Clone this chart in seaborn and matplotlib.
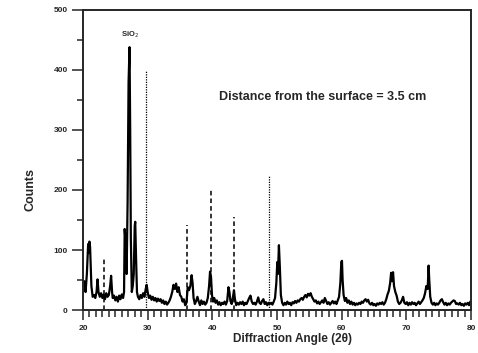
import matplotlib
matplotlib.use("Agg")
import matplotlib.pyplot as plt
import seaborn as sns
import pandas as pd
from matplotlib.ticker import MultipleLocator

# XRD 패턴 (2theta, counts) - 그림에서 읽은 값
angle = [20.0, 20.2, 20.4, 20.6, 20.8, 20.9, 21.0, 21.1, 21.3, 21.5, 21.7, 21.9,
         22.1, 22.25, 22.4, 22.6, 22.8, 23.0, 23.2, 23.4, 23.6, 23.8, 24.0, 24.2,
         24.35, 24.5, 24.6, 24.8, 25.0, 25.2, 25.4, 25.6, 25.8, 26.0, 26.2, 26.35,
         26.45, 26.6, 26.75, 26.9, 27.05, 27.2, 27.3, 27.4, 27.55, 27.7, 27.85, 28.0,
         28.08, 28.2, 28.35, 28.5, 28.7, 28.9, 29.1, 29.3, 29.5, 29.7, 29.85, 30.0,
         30.2, 30.4, 30.6, 30.8, 31.0, 31.2, 31.4, 31.6, 31.8, 32.0, 32.2, 32.4,
         32.6, 32.8, 33.0, 33.2, 33.4, 33.6, 33.8, 34.0, 34.2, 34.4, 34.6, 34.8,
         35.0, 35.2, 35.4, 35.6, 35.8, 36.0, 36.2, 36.4, 36.6, 36.8, 36.95, 37.1,
         37.3, 37.5, 37.7, 37.9, 38.1, 38.3, 38.5, 38.7, 38.9, 39.1, 39.3, 39.5,
         39.65, 39.8, 39.95, 40.1, 40.3, 40.5, 40.7, 40.9, 41.1, 41.3, 41.5, 41.7,
         41.9, 42.1, 42.3, 42.5, 42.65, 42.8, 43.0, 43.2, 43.35, 43.5, 43.7, 43.9,
         44.1, 44.3, 44.5, 44.7, 44.9, 45.1, 45.3, 45.5, 45.7, 45.9, 46.1, 46.3,
         46.5, 46.7, 46.9, 47.1, 47.3, 47.5, 47.7, 47.9, 48.1, 48.3, 48.5, 48.7,
         48.9, 49.1, 49.3, 49.5, 49.7, 49.9, 50.05, 50.15, 50.3, 50.45, 50.6, 50.8,
         51.0, 51.2, 51.4, 51.6, 51.8, 52.0, 52.2, 52.4, 52.6, 52.8, 53.0, 53.2,
         53.4, 53.6, 53.8, 54.0, 54.2, 54.4, 54.6, 54.8, 55.0, 55.2, 55.4, 55.6,
         55.8, 56.0, 56.2, 56.4, 56.6, 56.8, 57.0, 57.2, 57.4, 57.6, 57.8, 58.0,
         58.2, 58.4, 58.6, 58.8, 59.0, 59.2, 59.4, 59.6, 59.8, 59.95, 60.05, 60.15,
         60.3, 60.5, 60.7, 60.9, 61.1, 61.3, 61.5, 61.7, 61.9, 62.1, 62.3, 62.5,
         62.7, 62.9, 63.1, 63.3, 63.5, 63.7, 63.9, 64.1, 64.3, 64.5, 64.7, 64.9,
         65.1, 65.3, 65.5, 65.7, 65.9, 66.1, 66.3, 66.5, 66.7, 66.9, 67.1, 67.3,
         67.5, 67.65, 67.8, 67.95, 68.1, 68.3, 68.5, 68.7, 68.9, 69.1, 69.3, 69.5,
         69.7, 69.9, 70.1, 70.3, 70.5, 70.7, 70.9, 71.1, 71.3, 71.5, 71.7, 71.9,
         72.1, 72.3, 72.5, 72.7, 72.9, 73.1, 73.3, 73.45, 73.55, 73.7, 73.9, 74.1,
         74.3, 74.5, 74.7, 74.9, 75.1, 75.3, 75.5, 75.7, 75.9, 76.1, 76.3, 76.5,
         76.7, 76.9, 77.1, 77.3, 77.5, 77.7, 77.9, 78.1, 78.3, 78.5, 78.7, 78.9,
         79.1, 79.3, 79.5, 79.7, 79.9]
counts = [40, 48, 30, 60, 110, 95, 114, 105, 40, 22, 25, 20,
          30, 51, 30, 22, 28, 20, 26, 18, 28, 22, 25, 40,
          57, 30, 20, 24, 16, 22, 14, 24, 18, 26, 20, 30,
          135, 110, 60, 180, 380, 438, 300, 120, 30, 40, 60, 140,
          147, 90, 30, 22, 18, 25, 20, 28, 22, 35, 42, 30,
          20, 24, 17, 22, 16, 20, 14, 19, 15, 18, 12, 16,
          10, 14, 9, 12, 16, 22, 30, 42, 35, 44, 30, 38,
          25, 22, 14, 18, 8, 12, 38, 33, 40, 58, 45, 20,
          10, 15, 22, 14, 8, 16, 10, 14, 9, 12, 20, 40,
          64, 55, 25, 14, 20, 12, 16, 9, 13, 8, 12, 10,
          14, 9, 15, 38, 30, 15, 10, 22, 33, 18, 8, 12,
          9, 13, 10, 14, 8, 12, 10, 15, 20, 24, 14, 10,
          12, 9, 14, 21, 12, 10, 15, 18, 10, 13, 8, 12,
          10, 12, 9, 14, 20, 45, 80, 60, 108, 70, 25, 12,
          8, 12, 9, 14, 10, 12, 8, 13, 11, 15, 12, 16,
          14, 18, 20, 17, 22, 25, 21, 27, 24, 28, 22, 18,
          14, 16, 11, 14, 10, 13, 16, 12, 20, 15, 10, 13,
          9, 12, 15, 11, 14, 10, 16, 22, 45, 80, 82, 50,
          25, 15, 20, 12, 16, 10, 14, 9, 12, 8, 11, 9,
          12, 10, 14, 12, 16, 18, 14, 17, 11, 9, 12, 8,
          10, 7, 11, 9, 12, 10, 13, 9, 12, 18, 26, 32,
          45, 62, 48, 63, 40, 30, 24, 14, 10, 12, 16, 22,
          12, 10, 13, 8, 12, 9, 13, 10, 12, 8, 11, 14,
          10, 13, 16, 20, 28, 40, 35, 74, 50, 22, 12, 9,
          12, 8, 11, 9, 12, 16, 18, 13, 9, 12, 8, 11,
          9, 12, 14, 16, 15, 10, 11, 9, 12, 8, 10, 7,
          11, 9, 12, 8, 14]

# 기준 피크 (점선)
ref_angle = [23.28, 36.15, 39.74, 43.34]
ref_height = [88, 142, 200, 155]
# 기준 피크 (가는 점선)
ref2_angle = [29.75, 48.7]
ref2_height = [400, 225]

yticks = [0, 100, 200, 300, 400, 500]
xticks = [20, 30, 40, 50, 60, 70, 80]

sns.set_style("ticks")
plt.rcParams['font.family'] = ['Liberation Sans', 'DejaVu Sans']

fig = plt.figure(figsize=(4.78, 3.53), dpi=100)
ax = fig.add_axes([0.1736, 0.1218, 0.8117, 0.8499])

df = pd.DataFrame({"angle": angle, "counts": counts})
sns.lineplot(data=df, x="angle", y="counts", color="black", lw=1.6, ax=ax)

ax.vlines(ref_angle, 0, ref_height, colors="black", lw=1.1, linestyles=(0, (3, 2)))
ax.vlines(ref2_angle, 0, ref2_height, colors="black", lw=0.9, linestyles=(0, (1, 1)))

ax.set_xlim(20, 80)
ax.set_ylim(0, 500)
ax.set_xticks(xticks)
ax.set_yticks(yticks)
ax.set_xticklabels([str(t) for t in xticks], fontsize=6, fontweight="bold")
ax.set_yticklabels([str(t) for t in yticks], fontsize=6, fontweight="bold")
ax.xaxis.set_minor_locator(MultipleLocator(1))
ax.yaxis.set_minor_locator(MultipleLocator(50))
ax.tick_params(axis="x", which="major", length=7, width=1.1, pad=4)
ax.tick_params(axis="x", which="minor", length=5, width=1.1)
ax.tick_params(axis="y", which="major", length=8, width=1.1, pad=3)
ax.tick_params(axis="y", which="minor", length=4, width=1.1)
for s in ax.spines.values():
    s.set_linewidth(1.4)

ax.set_xlabel("Diffraction Angle (2θ)", fontsize=8.5, fontweight="bold")
ax.set_ylabel("Counts", fontsize=9, fontweight="bold")
ax.xaxis.set_label_coords(0.54, -0.075)
ax.yaxis.set_label_coords(-0.12, 0.40)

ax.text(27.3, 458, "SiO$_2$", fontsize=5.5, fontweight="bold", ha="center", va="center")
ax.text(41.1, 355, "Distance from the surface = 3.5 cm", fontsize=9,
        fontweight="bold", ha="left", va="center")

fig.savefig("out.png", dpi=100)
